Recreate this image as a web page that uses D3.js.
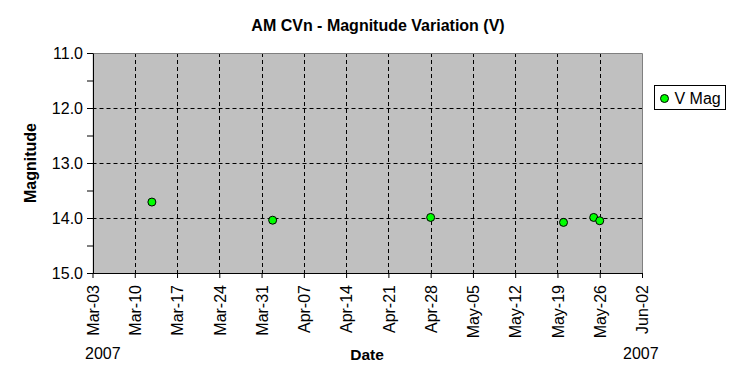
<!DOCTYPE html>
<html>
<head>
<meta charset="utf-8">
<script src="https://cdn.jsdelivr.net/npm/d3@7"></script>
<style>
  body { margin: 0; background: #fff; }
  svg { display: block; font-family: Arial, "Liberation Sans", sans-serif; }
</style>
</head>
<body>
<script>
var obsDates = ["2007-03-12T20:00", "2007-04-01T20:00", "2007-04-28T00:00",
                "2007-05-20T00:00", "2007-05-25T00:00", "2007-05-26T00:00"];
var vMags = [13.71, 14.04, 13.99, 14.08, 13.99, 14.05];

// Axis settings
var xDomain = ["2007-03-03", "2007-06-02"];
var yDomain = [11, 15];
var yMajor = [11, 12, 13, 14, 15];
var yMinor = [11, 11.5, 12, 12.5, 13, 13.5, 14, 14.5, 15];

var width = 749, height = 384;
var margin = {left: 92.5, right: 107, top: 53, bottom: 111};

var parse = d3.isoParse;
var data = obsDates.map(function(d, i) { return {date: parse(d), mag: vMags[i]}; });

var svg = d3.select("body").append("svg")
    .attr("width", width)
    .attr("height", height);

var x = d3.scaleTime()
    .domain(xDomain.map(function(d) { return parse(d); }))
    .range([margin.left, width - margin.right]);

var y = d3.scaleLinear()
    .domain(yDomain)
    .range([margin.top, height - margin.bottom]);

// weekly ticks, starting at the first day of the axis
var weeks = d3.timeDay.range(x.domain()[0], d3.timeDay.offset(x.domain()[1], 1), 7);

// plot background
svg.append("rect")
    .attr("x", x.range()[0])
    .attr("y", y.range()[0])
    .attr("width", x.range()[1] - x.range()[0])
    .attr("height", y.range()[1] - y.range()[0])
    .attr("fill", "#c0c0c0");

// gridlines
svg.append("g")
    .selectAll("line")
    .data(yMajor.slice(1, -1))
    .enter().append("line")
    .attr("x1", x.range()[0]).attr("x2", x.range()[1])
    .attr("y1", function(d) { return Math.round(y(d)) + 0.5; })
    .attr("y2", function(d) { return Math.round(y(d)) + 0.5; })
    .attr("stroke", "#000")
    .attr("stroke-dasharray", "4,3");

svg.append("g")
    .selectAll("line")
    .data(weeks.slice(1, -1))
    .enter().append("line")
    .attr("y1", y.range()[0]).attr("y2", y.range()[1])
    .attr("x1", function(d) { return Math.round(x(d)) + 0.5; })
    .attr("x2", function(d) { return Math.round(x(d)) + 0.5; })
    .attr("stroke", "#000")
    .attr("stroke-dasharray", "4,3");

// grey border on top and right
svg.append("path")
    .attr("d", "M" + x.range()[0] + "," + (y.range()[0] + 0.5) + "H" + (Math.round(x.range()[1]) + 0.5) + "V" + y.range()[1])
    .attr("fill", "none")
    .attr("stroke", "#808080");

// y axis
var yAxis = svg.append("g")
    .attr("transform", "translate(" + Math.round(x.range()[0]) + ",0)")
    .call(d3.axisLeft(y).tickValues(yMinor).tickSize(6).tickSizeOuter(0)
        .tickFormat(function(d) { return d % 1 == 0 ? d3.format(".1f")(d) : ""; }));
yAxis.selectAll("text").attr("font-size", 16).attr("font-family", "Arial, 'Liberation Sans'").attr("fill", "#000").attr("dx", "-1");
yAxis.selectAll("line, path").attr("stroke", "#000");

// x axis
var xAxis = svg.append("g")
    .attr("transform", "translate(0," + Math.round(y.range()[1]) + ")")
    .call(d3.axisBottom(x).tickValues(weeks).tickSize(5).tickSizeOuter(0)
        .tickFormat(d3.timeFormat("%b-%d")));
xAxis.selectAll("line, path").attr("stroke", "#000");
xAxis.selectAll("text")
    .attr("font-size", 16)
    .attr("font-family", "Arial, 'Liberation Sans'")
    .attr("fill", "#000")
    .attr("text-anchor", "end")
    .attr("transform", "rotate(-90)")
    .attr("x", -12)
    .attr("y", 0)
    .attr("dy", "0.36em");

// points
svg.append("g")
    .selectAll("circle")
    .data(data)
    .enter().append("circle")
    .attr("cx", function(d) { return x(d.date); })
    .attr("cy", function(d) { return y(d.mag); })
    .attr("r", 4)
    .attr("fill", "#00ff00")
    .attr("stroke", "#000")
    .attr("stroke-width", 1);

// titles
svg.append("text")
    .attr("x", 378).attr("y", 31)
    .attr("text-anchor", "middle")
    .attr("font-size", 16).attr("font-weight", "bold")
    .text("AM CVn - Magnitude Variation (V)");

svg.append("text")
    .attr("transform", "translate(36,163) rotate(-90)")
    .attr("text-anchor", "middle")
    .attr("font-size", 16).attr("font-weight", "bold")
    .text("Magnitude");

svg.append("text")
    .attr("x", 367).attr("y", 360)
    .attr("text-anchor", "middle")
    .attr("font-size", 15.5).attr("font-weight", "bold")
    .text("Date");

svg.append("text")
    .attr("x", 85).attr("y", 359)
    .attr("font-size", 16)
    .text(d3.timeFormat("%Y")(x.domain()[0]));

svg.append("text")
    .attr("x", 623).attr("y", 359)
    .attr("font-size", 16)
    .text(d3.timeFormat("%Y")(x.domain()[1]));

// legend
var legend = svg.append("g").attr("transform", "translate(654.5,85.5)");
legend.append("rect")
    .attr("width", 71).attr("height", 24)
    .attr("fill", "#fff").attr("stroke", "#000");
legend.append("circle")
    .attr("cx", 10).attr("cy", 13)
    .attr("r", 4)
    .attr("fill", "#00ff00").attr("stroke", "#000");
legend.append("text")
    .attr("x", 20).attr("y", 18.5)
    .attr("font-size", 16)
    .text("V Mag");
</script>
</body>
</html>
